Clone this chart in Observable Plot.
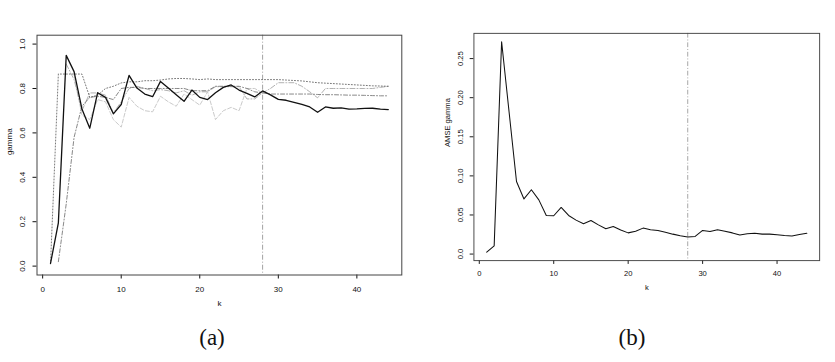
<!DOCTYPE html>
<html>
<head>
<meta charset="utf-8">
<script src="https://cdn.jsdelivr.net/npm/d3@7"></script>
<script src="https://cdn.jsdelivr.net/npm/@observablehq/plot@0.6"></script>
<style>
  html, body { margin: 0; padding: 0; background: #fff; }
  body { width: 835px; height: 362px; overflow: hidden; position: relative;
         font-family: "Liberation Sans", Arial, sans-serif; }
  .panel { position: absolute; top: 0; }
  .title { position: absolute; top: 8px; font-size: 10px; color: #111;
           transform: translateX(-50%); white-space: nowrap; }
  .cap { position: absolute; top: 325px; font-family: "Liberation Serif", "DejaVu Serif", serif;
         font-size: 23px; color: #111; transform: translateX(-50%); }
</style>
</head>
<body>
<div class="title" style="left:219px">Estimates of extreme value index</div>
<div class="title" style="left:659px">AMSE estimates of extreme value index</div>
<div id="pa" class="panel" style="left:0px"></div>
<div id="pb" class="panel" style="left:418px"></div>
<div class="cap" style="left:212px">(a)</div>
<div class="cap" style="left:632px">(b)</div>
<script>
// number of upper order statistics k = 1..44
const k = d3.range(1, 45);
const kTicks = [0, 10, 20, 30, 40];
const kChosen = 28;

// panel (a): estimates of gamma for each k
const gammaMain = [0.012, 0.195, 0.949, 0.876, 0.708, 0.621, 0.781, 0.760, 0.686, 0.728,
  0.859, 0.802, 0.775, 0.763, 0.832, 0.802, 0.772, 0.742, 0.793, 0.760,
  0.750, 0.781, 0.805, 0.816, 0.793, 0.778, 0.762, 0.789, 0.771, 0.751,
  0.747, 0.738, 0.728, 0.717, 0.693, 0.717, 0.711, 0.713, 0.707, 0.708,
  0.710, 0.711, 0.707, 0.705];
const gammaAlt1 = [0.010, 0.865, 0.865, 0.865, 0.865, 0.760, 0.770, 0.800, 0.810, 0.825,
  0.830, 0.830, 0.835, 0.835, 0.838, 0.843, 0.845, 0.845, 0.843, 0.840,
  0.843, 0.840, 0.840, 0.840, 0.840, 0.840, 0.840, 0.840, 0.840, 0.840,
  0.838, 0.836, 0.834, 0.830, 0.826, 0.824, 0.822, 0.820, 0.818, 0.816,
  0.814, 0.812, 0.811, 0.810];
const gammaAlt2 = [null, 0.020, 0.280, 0.580, 0.720, 0.760, 0.765, 0.760, 0.750, 0.800,
  0.805, 0.805, 0.800, 0.800, 0.800, 0.800, 0.800, 0.800, 0.790, 0.790,
  0.790, 0.810, 0.810, 0.810, 0.810, 0.800, 0.785, 0.780, 0.775, 0.775,
  0.775, 0.775, 0.775, 0.775, 0.773, 0.772, 0.772, 0.771, 0.770, 0.770,
  0.769, 0.768, 0.767, 0.767];
const gammaAlt3 = [null, null, 0.910, 0.840, 0.700, 0.780, 0.780, 0.770, 0.690, 0.740,
  0.800, 0.810, 0.800, 0.790, 0.795, 0.790, 0.780, 0.790, 0.770, 0.785,
  0.785, 0.808, 0.808, 0.808, 0.808, 0.753, 0.753, 0.780, 0.800, 0.826,
  0.826, 0.826, 0.810, 0.785, 0.758, 0.800, 0.800, 0.800, 0.800, 0.800,
  0.800, 0.800, 0.805, 0.810];
const gammaAlt4 = [null, null, null, 0.860, 0.680, 0.660, 0.750, 0.740, 0.660, 0.626,
  0.760, 0.720, 0.700, 0.695, 0.765, 0.740, 0.720, 0.775, 0.750, 0.725,
  0.785, 0.660, 0.700, 0.715, 0.700, 0.800, 0.800, 0.780, null, null,
  null, null, null, null, null, null, null, null, null, null,
  null, null, null, null];
const gammaTicks = [0, 0.2, 0.4, 0.6, 0.8, 1.0];

// panel (b): AMSE of the gamma estimate for each k
const amse = [0.0024, 0.0105, 0.2715, 0.182, 0.0928, 0.0705, 0.0823, 0.0693, 0.0494, 0.0490,
  0.0596, 0.0494, 0.0434, 0.0389, 0.0430, 0.0373, 0.0324, 0.0353, 0.0308, 0.0271,
  0.0292, 0.0332, 0.0310, 0.0302, 0.0280, 0.0255, 0.0235, 0.0219, 0.0226, 0.0302,
  0.0288, 0.0312, 0.0292, 0.0271, 0.0245, 0.0259, 0.0265, 0.0255, 0.0255, 0.0247,
  0.0237, 0.0231, 0.0251, 0.0265];
const amseTicks = [0, 0.05, 0.10, 0.15, 0.20, 0.25];

const rows = (ys) => k.map((kk, i) => ({k: kk, y: ys[i]}));

// R-style axis range: data range widened by 4% on each side
const pad = ([lo, hi]) => [lo - 0.04 * (hi - lo), hi + 0.04 * (hi - lo)];
const xDomain = pad([1, 44]);

function panel({width, marginLeft, yDomain, yTicks, yFormat, yLabel, lines}) {
  return Plot.plot({
    width, height: 362,
    marginLeft, marginRight: 16.7, marginTop: 34.7, marginBottom: 87.5,
    style: {fontFamily: "'Liberation Sans', Arial, sans-serif", fontSize: "8px",
            background: "white", overflow: "visible", color: "#111"},
    x: {domain: xDomain, axis: null},
    y: {domain: yDomain, axis: null},
    marks: [
      Plot.axisX(kTicks, {tickSize: 4, tickPadding: 7, label: null, tickFormat: d => String(d)}),
      Plot.axisY(yTicks, {tickSize: 4, tickRotate: -90, tickPadding: 8, label: null, tickFormat: yFormat}),
      Plot.text(["k"], {frameAnchor: "bottom", dy: 31}),
      Plot.text([yLabel], {frameAnchor: "left", dx: -28, rotate: -90}),
      Plot.ruleX([kChosen], {stroke: "#8a8a8a", strokeWidth: 0.8, strokeDasharray: "5,2,1,2"}),
      ...lines,
      Plot.frame({stroke: "#444", strokeWidth: 1})
    ]
  });
}

const gammaFmt = d => d.toFixed(1);
const amseFmt = d => d === 0 ? "0.0" : d.toFixed(2);

document.getElementById("pa").append(panel({
  width: 418, marginLeft: 36.5,
  yDomain: [-0.04, 1.04], yTicks: gammaTicks, yFormat: gammaFmt, yLabel: "gamma",
  lines: [
    Plot.line(rows(gammaAlt4), {x: "k", y: "y", stroke: "#c4c4c4", strokeWidth: 0.9, strokeDasharray: "4,2"}),
    Plot.line(rows(gammaAlt3), {x: "k", y: "y", stroke: "#a8a8a8", strokeWidth: 0.9, strokeDasharray: "5,2,1,2"}),
    Plot.line(rows(gammaAlt2), {x: "k", y: "y", stroke: "#6a6a6a", strokeWidth: 0.8, strokeDasharray: "4,2,1,2"}),
    Plot.line(rows(gammaAlt1), {x: "k", y: "y", stroke: "#555", strokeWidth: 0.8, strokeDasharray: "1,2"}),
    Plot.line(rows(gammaMain), {x: "k", y: "y", stroke: "#111", strokeWidth: 1.3})
  ]
}));

document.getElementById("pb").append(panel({
  width: 440, marginLeft: 58.5,
  yDomain: pad(d3.extent(amse)), yTicks: amseTicks, yFormat: amseFmt, yLabel: "AMSE gamma",
  lines: [
    Plot.line(rows(amse), {x: "k", y: "y", stroke: "#111", strokeWidth: 1.1})
  ]
}));
</script>
</body>
</html>
